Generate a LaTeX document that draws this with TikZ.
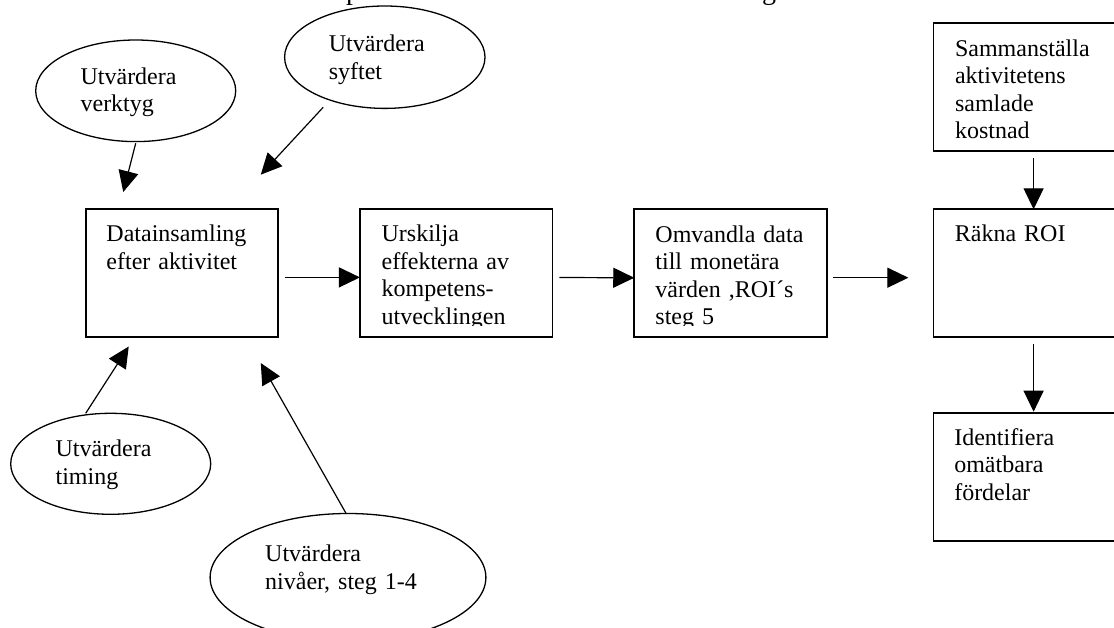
\documentclass[tikz,border=0pt]{standalone}
\usepackage{fontspec}
\setmainfont{Liberation Serif}
\usetikzlibrary{shapes.geometric,arrows.meta}

\begin{document}
\begin{tikzpicture}[x=1pt,y=-1pt,
  stepbox/.style={draw, line width=1.6pt, minimum width=192.5pt, minimum height=128pt, inner sep=0pt, outer sep=0pt},
  bubble/.style={draw, ellipse, line width=1.3pt, inner sep=0pt, outer sep=0pt},
  boxtext/.style={anchor=base west, inner sep=0pt, text width=185pt, align=left, font=\fontsize{24}{27.6}\selectfont},
  bubbletext/.style={anchor=base west, inner sep=0pt, text width=240pt, align=left, font=\fontsize{24}{27.4}\selectfont},
  arr/.style={line width=1.2pt, -{Triangle[length=21pt,width=20pt]}},
]
\useasboundingbox (0,0) rectangle (1114,628);
\fill[white] (0,0) rectangle (1114,628);
\clip (0,0) rectangle (1114,628);

% descenders of the heading line above the page edge
\node[anchor=base west, inner sep=0pt, font=\fontsize{28}{32}\selectfont] (hp) at (346,-0.8) {p};
\node[anchor=base west, inner sep=0pt, font=\fontsize{28}{32}\selectfont] (hg) at (762,-0.8) {g};

% process boxes
\node[stepbox] (A) at (182,273) {};
\node[stepbox] (B) at (456.2,273) {};
\node[stepbox] (C) at (730.5,273.3) {};
\node[stepbox] (D) at (1029.6,273.3) {};
\node[stepbox] (E) at (1029.6,86.8) {};
\node[stepbox] (F) at (1029.6,476.7) {};

% box texts, cut off at the inner bottom margin
\begin{scope}
\clip (A.north west) rectangle ([shift={(0,-11.3)}]A.south east);
\node[boxtext] (At) at ([shift={(20.5,32.5)}]A.north west) {Datainsamling\\efter aktivitet};
\end{scope}
\begin{scope}
\clip (B.north west) rectangle ([shift={(0,-11.3)}]B.south east);
\node[boxtext] (Bt) at ([shift={(21.5,32.5)}]B.north west) {Urskilja\\effekterna av\\kompetens-\\utvecklingen};
\end{scope}
\begin{scope}
\clip (C.north west) rectangle ([shift={(0,-11.3)}]C.south east);
\node[boxtext] (Ct) at ([shift={(21,32.8)}]C.north west) {Omvandla data\\till monetära\\värden ,ROI´s\\steg 5};
\end{scope}
\begin{scope}
\clip (D.north west) rectangle ([shift={(0,-11.3)}]D.south east);
\node[boxtext] (Dt) at ([shift={(21.3,32.7)}]D.north west) {Räkna ROI};
\end{scope}
\begin{scope}
\clip (E.north west) rectangle ([shift={(0,-11.3)}]E.south east);
\node[boxtext] (Et) at ([shift={(21.5,33.3)}]E.north west) {Sammanställa\\aktivitetens\\samlade\\kostnad};
\end{scope}
\begin{scope}
\clip (F.north west) rectangle ([shift={(0,-11.3)}]F.south east);
\node[boxtext] (Ft) at ([shift={(20.7,32.3)}]F.north west) {Identifiera\\omätbara\\fördelar};
\end{scope}

% evaluation ellipses
\node[bubble, minimum width=200pt, minimum height=101.6pt] (E1) at (135.7,90.8) {};
\node[bubble, minimum width=200.4pt, minimum height=102.4pt] (E2) at (384.8,57.2) {};
\node[bubble, minimum width=200pt, minimum height=101pt] (E3) at (110.7,463.8) {};
\node[bubble, minimum width=275.8pt, minimum height=128pt] (E4) at (348,577.5) {};

\node[bubbletext] (E1t) at ([shift={(-55.3,-6.5)}]E1.center) {Utvärdera\\verktyg};
\node[bubbletext] (E2t) at ([shift={(-56.2,-5.5)}]E2.center) {Utvärdera\\syftet};
\node[bubbletext] (E3t) at ([shift={(-55.3,-7.1)}]E3.center) {Utvärdera\\timing};
\node[bubbletext] (E4t) at ([shift={(-83,-15.8)}]E4.center) {Utvärdera\\nivåer, steg 1-4};

% connectors
\draw[arr] ([shift={(0,52.5)}]E1.center) -- ([shift={(37.5,-17)}]A.north west);
\draw[arr] ([shift={(-61.6,50.1)}]E2.center) -- ([shift={(175,-34.3)}]A.north west);
\draw[arr] ([shift={(-25,-50.5)}]E3.center) -- ([shift={(43,9.5)}]A.south west);
\draw[arr] ([shift={(-1.6,0.5)}]E4.north) -- ([shift={(175,26)}]A.south west);

\draw[arr] ([shift={(6.7,4.4)}]A.east) -- ([shift={(0,4.4)}]B.west);
\draw[arr] ([shift={(7,4.5)}]B.east) -- ([shift={(0,4.5)}]C.west);
\draw[arr] ([shift={(6.5,4.4)}]C.east) -- ([shift={(-25,4.4)}]D.west);
\draw[arr] ([shift={(4,7.3)}]E.south) -- ([shift={(4,0)}]D.north);
\draw[arr] ([shift={(4,7)}]D.south) -- ([shift={(4,-1)}]F.north);
\end{tikzpicture}
\end{document}
